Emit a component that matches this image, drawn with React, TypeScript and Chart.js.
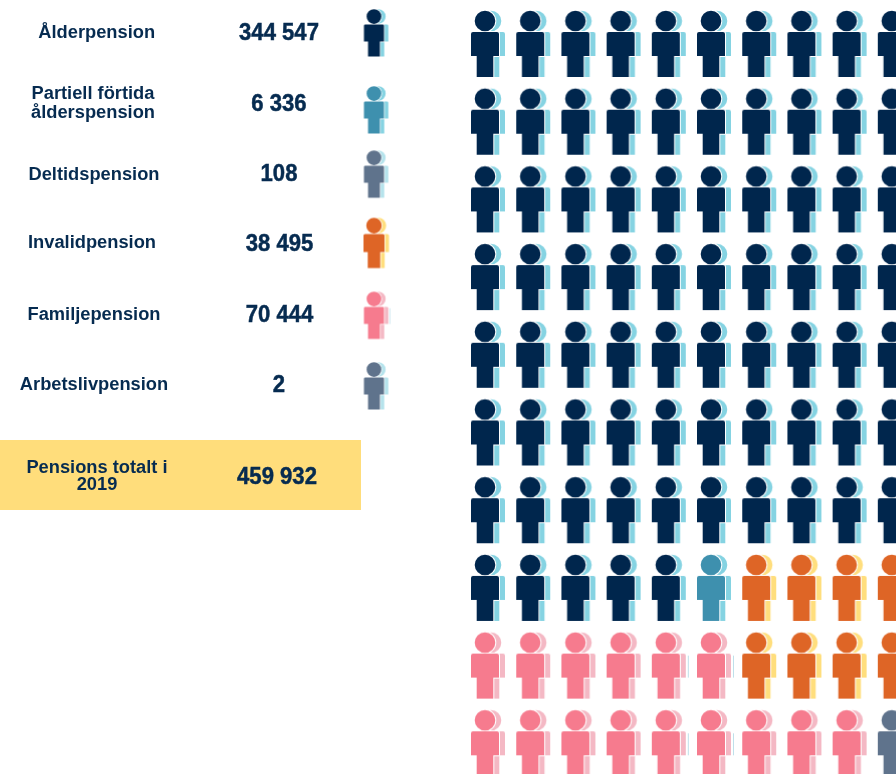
import React, { useEffect, useRef } from "react";
import { Chart, registerables } from "chart.js";

Chart.register(...registerables);

// ---- data ----
const pensionTypes = ["Ålderpension", "Partiell förtida ålderspension", "Deltidspension", "Invalidpension", "Familjepension", "Arbetslivpension"];
const pensionCounts = [344547, 6336, 108, 38495, 70444, 2];
const totalLabel = "Pensions totalt i 2019";
const totalCount = 459932;
// Each grid row, one letter per person: A ålder, P partiell, D deltid, I invalid, F familje, L arbetsliv
const gridRows = [
  "AAAAAAAAAA",
  "AAAAAAAAAA",
  "AAAAAAAAAA",
  "AAAAAAAAAA",
  "AAAAAAAAAA",
  "AAAAAAAAAA",
  "AAAAAAAAAA",
  "AAAAAPIIII",
  "FFFFFFIIII",
  "FFFFFFFFFL",
];
const gridCodes = ["A", "P", "D", "I", "F", "L"];

// ---- styles ----
const frontColors = ["#00264D", "#3E90AE", "#5F738C", "#DE6526", "#F67B8E", "#5F738C"];
const backColors = ["#85D3E2", "#85D3E2", "#B5E3EC", "#FFDE7D", "#F4B8C4", "#B5E3EC"];
const textColor = "#062B50";
const bandColor = "#FFDD7B";
const stripColor = "#BFE0EA";
const W = 896;
const H = 774;
const colPitch = 45.2;
const rowPitch = 77.7;
const firstCol = 485;
const firstRow = 44;
const tableRowTop = 33;
const tableRowPitch = 70.6;
const tableIconX = 374;
const legendNudge = [0, 0.09, 0, -0.025, 0, 0];
const legendScales = [0.71, 0.71, 0.71, 0.75, 0.71, 0.71];
const labelFont = 'bold 18.3px "Liberation Sans", Arial, sans-serif';
const valueFont = 'bold 24px "Liberation Sans", sans-serif';
const valueSqueeze = 0.92;
const labelLines = [
  [["Ålderpension", 96.7, 37.5]],
  [["Partiell förtida", 93, 98.5], ["ålderspension", 93, 118]],
  [["Deltidspension", 94, 179.5]],
  [["Invalidpension", 92, 247.7]],
  [["Familjepension", 94, 320]],
  [["Arbetslivpension", 94, 390]],
];
const valuePos = [[279, 40], [279, 110.5], [279, 181], [279.5, 251], [279.5, 322], [279, 392]];

function personIcon(front: string, back: string, scale: number, strip = false) {
  const c = document.createElement("canvas");
  c.width = Math.ceil(60 * scale);
  c.height = Math.ceil(70 * scale);
  const g = c.getContext("2d")!;
  g.scale(c.width / 60, c.height / 70);
  const shape = (dx: number) => {
    const cx = 30 + dx;
    const p = new Path2D();
    p.arc(cx, 12, 10.3, 0, Math.PI * 2);
    p.closePath();
    const l = cx - 14, r = cx + 14;
    p.moveTo(l + 2, 23);
    p.lineTo(r - 2, 23);
    p.quadraticCurveTo(r, 23, r, 25);
    p.lineTo(r, 47);
    p.lineTo(cx + 8.3, 47);
    p.lineTo(cx + 8.3, 68);
    p.lineTo(cx - 8.3, 68);
    p.lineTo(cx - 8.3, 47);
    p.lineTo(l, 47);
    p.lineTo(l, 25);
    p.quadraticCurveTo(l, 23, l + 2, 23);
    p.closePath();
    return p;
  };
  if (strip) {
    g.fillStyle = stripColor;
    g.fillRect(52, 25, 1, 22);
  }
  g.fillStyle = back;
  g.fill(shape(6));
  const f = shape(0);
  g.strokeStyle = "#FFFFFF";
  g.lineWidth = 2;
  g.lineJoin = "round";
  g.stroke(f);
  g.fillStyle = front;
  g.fill(f);
  return c;
}

const tablePlugin = {
  id: "pensionTable",
  beforeDatasetsDraw(chart: any) {
    const ctx = chart.ctx;
    ctx.save();
    ctx.fillStyle = bandColor;
    ctx.fillRect(0, 440, 361, 70);
    ctx.fillStyle = textColor;
    ctx.strokeStyle = textColor;
    ctx.textAlign = "center";
    ctx.textBaseline = "alphabetic";
    ctx.font = labelFont;
    labelLines.forEach((lines) =>
      lines.forEach(([t, x, y]) => ctx.fillText(t as string, x as number, y as number))
    );
    const words = totalLabel.split(" ");
    ctx.fillText(words.slice(0, 3).join(" "), 97, 472.7);
    ctx.fillText(words[3], 97, 490);
    ctx.font = valueFont;
    ctx.lineWidth = 0.5;
    const fmt = (n: number) => String(n).replace(/\B(?=(\d{3})+$)/g, " ");
    const value = (t: string, x: number, y: number) => {
      ctx.save();
      ctx.translate(x, y);
      ctx.scale(valueSqueeze, 1);
      ctx.fillText(t, 0, 0);
      ctx.strokeText(t, 0, 0);
      ctx.restore();
    };
    pensionCounts.forEach((n, i) => value(fmt(n), valuePos[i][0], valuePos[i][1]));
    value(fmt(totalCount), 277, 484);
    ctx.restore();
  },
};

export default function App() {
  const ref = useRef<HTMLCanvasElement>(null);
  useEffect(() => {
    const gridIcons = frontColors.map((f, i) => personIcon(f, backColors[i], 1));
    const pinkStripIcon = personIcon(frontColors[4], backColors[4], 1, true);
    const legendIcons = frontColors.map((f, i) => personIcon(f, backColors[i], legendScales[i], i === 4));
    const datasets: any[] = gridCodes.map((code, k) => {
      const data: { x: number; y: number }[] = [];
      gridRows.forEach((row, r) =>
        row.split("").forEach((ch, c) => {
          if (ch === code) data.push({ x: c, y: r });
        })
      );
      return {
        label: pensionTypes[k],
        data,
        xAxisID: "x",
        yAxisID: "y",
        pointStyle:
          code === "F"
            ? (c: any) => (c.raw && (c.raw.x === 4 || c.raw.x === 5) ? pinkStripIcon : gridIcons[k])
            : gridIcons[k],
        pointRadius: 0.5,
        pointBorderWidth: 0,
        borderWidth: 0,
        showLine: false,
        clip: false,
      };
    });
    datasets.push({
      label: "Förklaring",
      data: pensionTypes.map((_, i) => ({ x: 0, y: i + legendNudge[i] })),
      xAxisID: "xT",
      yAxisID: "yT",
      pointStyle: legendIcons,
      pointRadius: 0.5,
      pointBorderWidth: 0,
      borderWidth: 0,
      showLine: false,
      clip: false,
    });
    const chart: any = new Chart(ref.current!, {
      type: "scatter",
      data: { datasets },
      plugins: [tablePlugin],
      options: {
        animation: false,
        responsive: false,
        layout: { padding: 0 },
        plugins: { legend: { display: false }, tooltip: { enabled: false } },
        scales: {
          x: { display: false },
          y: { display: false, reverse: true },
          xT: { display: false },
          yT: { display: false, reverse: true },
        },
      },
    });
    // Chart.js keeps a little room round the plot; fit the scales to the plot it really gave.
    const a = chart.chartArea;
    const s = chart.options.scales;
    s.x.min = (a.left - firstCol) / colPitch;
    s.x.max = (a.right - firstCol) / colPitch;
    s.y.min = (a.top - firstRow) / rowPitch;
    s.y.max = (a.bottom - firstRow) / rowPitch;
    s.xT.min = a.left - tableIconX;
    s.xT.max = a.right - tableIconX;
    s.yT.min = (a.top - tableRowTop) / tableRowPitch;
    s.yT.max = (a.bottom - tableRowTop) / tableRowPitch;
    chart.update();
    return () => chart.destroy();
  }, []);
  return (
    <div style={{ position: "absolute", left: 0, top: 0, width: W, height: H, overflow: "hidden", background: "#fff" }}>
      <canvas ref={ref} width={W} height={H} style={{ display: "block" }} />
    </div>
  );
}
